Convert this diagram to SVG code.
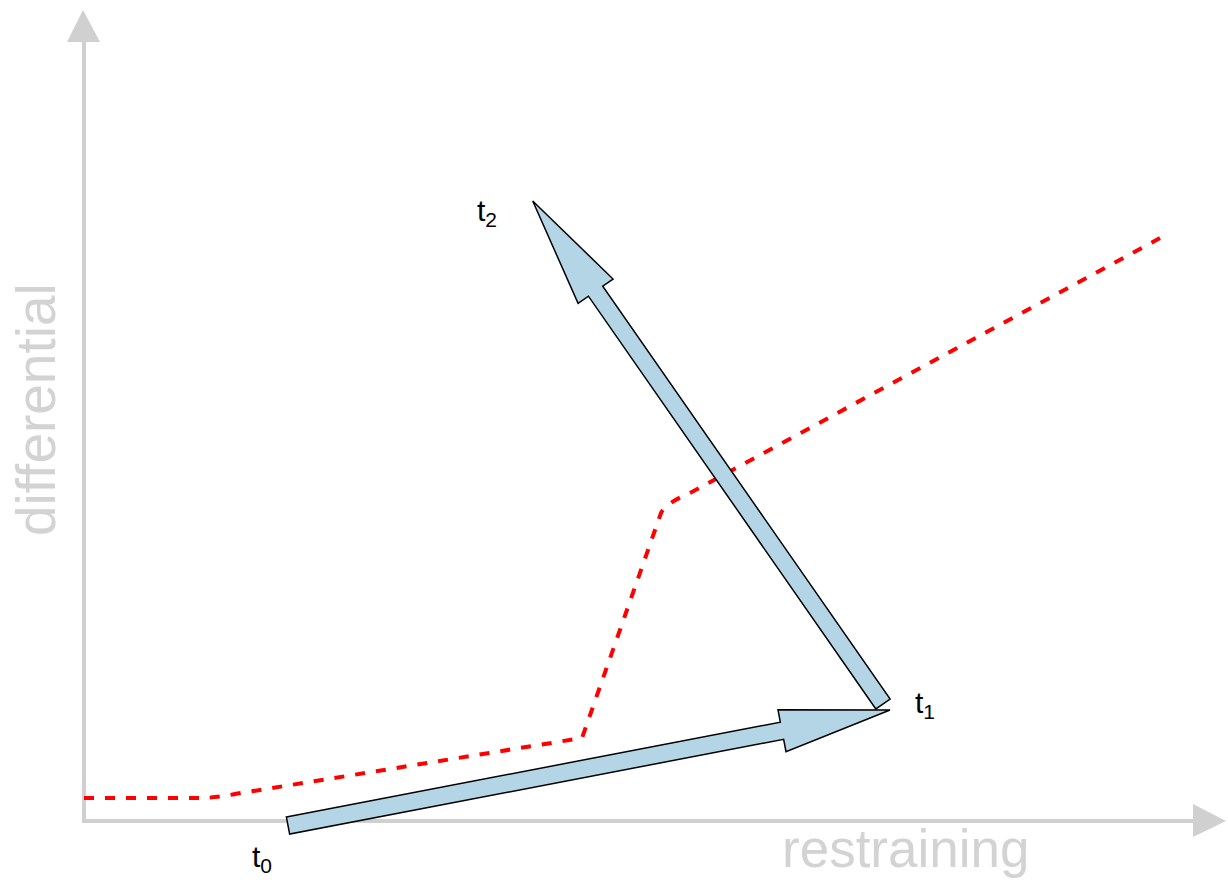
<svg xmlns="http://www.w3.org/2000/svg" width="1228" height="884" viewBox="0 0 1228 884">
<style>
.axis{stroke:#d0d0d0;stroke-width:4;fill:none}
.axhead{fill:#d0d0d0}
.axlabel{font-family:"Liberation Sans",Arial,sans-serif;fill:#d3d3d3}
.lbl{font-family:"Liberation Sans",Arial,sans-serif;font-size:30px;fill:#000}
.arrow{fill:#b4d5e6;stroke:#000;stroke-width:1.5;stroke-linejoin:miter}
.curve{fill:none;stroke:#ff0000;stroke-width:4;stroke-dasharray:10 11}
</style>
<defs>
<polygon id="blk" points="0,-8.7 503,-8.7 503,-21.3 613,0 503,21.3 503,8.7 0,8.7"/>
</defs>
<g id="axes">
<line class="axis" x1="84" y1="821" x2="84" y2="40"/>
<polygon class="axhead" points="83,10 100,42 67,42"/>
<line class="axis" x1="82" y1="821" x2="1195" y2="821"/>
<polygon class="axhead" points="1226,821 1193,804 1193,837"/>
</g>
<g id="label-differential"><text class="axlabel" font-size="55" transform="translate(55,536) rotate(-90)">differential</text></g>
<g id="label-restraining"><text class="axlabel" font-size="53" x="782" y="867">restraining</text></g>
<g id="curve"><path class="curve" d="M84,798 L200,798 Q215,798 235,794 L582,738 L661,513 Q666,503 690,493 L1160,238"/></g>
<g id="connectors">
<use href="#blk" class="arrow" transform="translate(288,825.5) rotate(-10.86)"/>
<use href="#blk" class="arrow" transform="translate(883,704) rotate(-124.85)"/>
</g>
<g id="t0"><text class="lbl" x="252" y="867">t<tspan font-size="21" dy="6">0</tspan></text></g>
<g id="t1"><text class="lbl" x="915" y="713">t<tspan font-size="21" dy="6">1</tspan></text></g>
<g id="t2"><text class="lbl" x="477" y="221">t<tspan font-size="21" dy="6">2</tspan></text></g>
</svg>
